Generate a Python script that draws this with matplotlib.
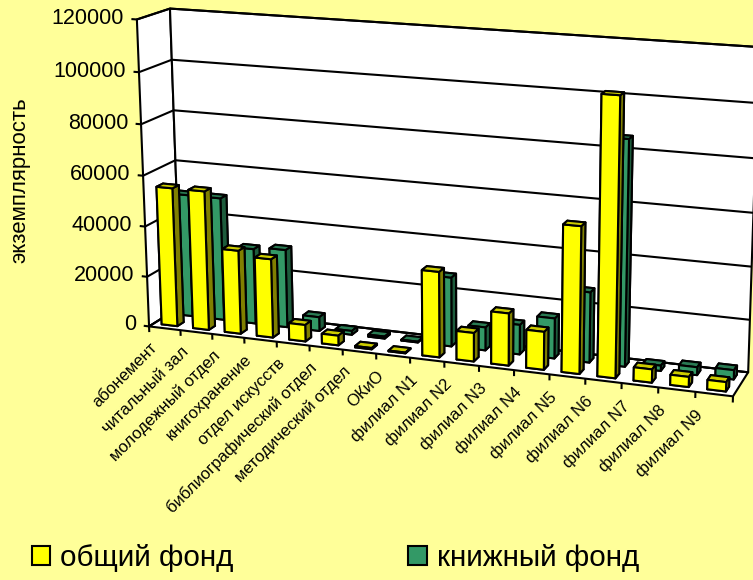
import numpy as np
import matplotlib
matplotlib.use('Agg')
import matplotlib.pyplot as plt
from matplotlib.patches import Patch
from mpl_toolkits.mplot3d import proj3d
from mpl_toolkits.mplot3d.art3d import Poly3DCollection, Line3DCollection

plt.rcParams['font.family'] = ['Liberation Sans', 'DejaVu Sans']

categories = ['абонемент', 'читальный зал', 'молодежный отдел', 'книгохранение',
              'отдел искусств', 'библиографический отдел', 'методический отдел', 'ОКиО',
              'филиал N1', 'филиал N2', 'филиал N3', 'филиал N4', 'филиал N5',
              'филиал N6', 'филиал N7', 'филиал N8', 'филиал N9']
total_fund = [55000, 55000, 33000, 31000, 6500, 3800, 500, 300,
              33000, 11000, 20000, 14500, 55500, 104000, 5000, 3800, 3500]
book_fund = [49000, 49000, 30000, 31000, 5500, 1500, 800, 300,
             27000, 9000, 11500, 15500, 27000, 85500, 2000, 3000, 3500]
z_ticks = [0, 20000, 40000, 60000, 80000, 100000, 120000]

BG = '#FFFF99'
W, H = 753, 580
n = len(categories)
z_max = z_ticks[-1]

# box corners (x, depth, value) against where they sit on the canvas, for the Excel style camera
calib = [((0, 0, 0), (149, 326)), ((0, 0, 1), (137, 20)),
         ((0, 1, 0), (181, 307)), ((0, 1, 1), (170, 8)),
         ((1, 1, 1), (759, 47.5)), ((1, 1, 0), (748, 372)),
         ((1, 0, 0), (733, 397)), ((0, 1, .5), (175, 161)),
         ((1, 1, .5), (753.5, 212)), ((0, 0, .5), (143, 175))]
rows = []
for (a, b, c), (px, py) in calib:
    py = H - py
    rows.append([a, b, c, 1, 0, 0, 0, 0, -px*a, -px*b, -px*c, -px])
    rows.append([0, 0, 0, 0, a, b, c, 1, -py*a, -py*b, -py*c, -py])
P = np.linalg.svd(np.array(rows))[2][-1].reshape(3, 4)
P = P @ np.diag([1/n, 1, 1/z_max, 1])
if P[2, 3] < 0:
    P = -P
# depth only orders the faces: farther away = drawn first
M = np.vstack([P[0], P[1], [0, 0, 0, -1], P[2]])

fig = plt.figure(figsize=(W/100, H/100), dpi=100, facecolor=BG)
ax = fig.add_axes([0, (H-W)/2/H, 1, W/H], projection='3d', computed_zorder=False)
ax.set_axis_off()
ax.patch.set_visible(False)
ax.get_proj = lambda: M


def label(x, y, z, s, **kw):
    # text keeps its own rotation, only its anchor goes through the projection
    px, py, _ = proj3d.proj_transform(x, y, z, M)
    ax.text2D(px, py, s, transform=ax.transData, zorder=50, **kw)


# walls and floor
walls = [[(0, 0, 0), (n, 0, 0), (n, 1, 0), (0, 1, 0)],
         [(0, 1, 0), (n, 1, 0), (n, 1, z_max), (0, 1, z_max)],
         [(0, 0, 0), (0, 1, 0), (0, 1, z_max), (0, 0, z_max)]]
ax.add_collection3d(Poly3DCollection(walls, facecolors='white', edgecolors='black',
                                     linewidths=1.5, zorder=1))

lines = []
for v in z_ticks:
    lines.append([(-.17, 0, v), (0, 0, v)])
    lines.append([(0, 0, v), (0, 1, v)])
    lines.append([(0, 1, v), (n, 1, v)])
    label(-.4, 0, v, str(v), ha='right', va='center', fontsize=15.5)
for i in range(n + 1):
    lines.append([(i, 0, 0), (i, 0, -2300)])
ax.add_collection3d(Line3DCollection(lines, colors='black', linewidths=1.5, zorder=2))

for i, name in enumerate(categories):
    label(i + .15, 0, -7500, name, rotation=45, rotation_mode='anchor',
          ha='right', va='center', fontsize=12)


def draw_row(values, y0, face, side, top, base):
    for i, v in enumerate(values):
        # faces: bottom, top, front, back, left, right
        colors = [top, top, face, face, side, side]
        ax.bar3d(i + .25, y0, 0, .5, .2, v, color=colors, shade=False,
                 edgecolor='black', linewidth=1.5, zorder=base + i)


draw_row(book_fund, .65, '#339966', '#1D5C3C', '#297A52', 10)
draw_row(total_fund, .15, '#FFFF00', '#808000', '#CCCC00', 30)

ax.set_xlim(0, n)
ax.set_ylim(0, 1)
ax.set_zlim(0, z_max)
# 2D view of the axes in canvas pixels
ax.viewLim.intervalx = (0, W)
ax.viewLim.intervaly = ((H-W)/2, (H+W)/2)

fig.text(20/W, 1 - 180/H, 'экземплярность', rotation=90, ha='center', va='center', fontsize=16)

handles = [Patch(facecolor='#FFFF00', edgecolor='black', lw=1.5),
           Patch(facecolor='#339966', edgecolor='black', lw=1.5)]
fig.legend(handles, ['общий фонд', 'книжный фонд'], ncol=2, frameon=False, fontsize=21.3,
           loc='lower left', bbox_to_anchor=(32/W, 8/H), handlelength=.62, handleheight=.62,
           handletextpad=.34, columnspacing=5.9, borderpad=0, borderaxespad=0)

fig.savefig('out.png', dpi=100)
